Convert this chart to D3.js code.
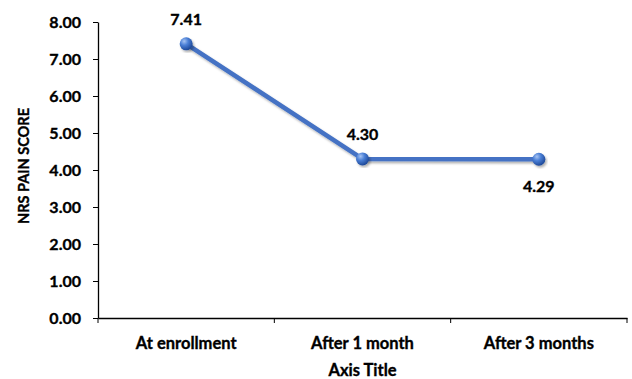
<!DOCTYPE html>
<html>
<head>
<meta charset="utf-8">
<script src="https://cdn.jsdelivr.net/npm/d3@7"></script>
<style>
  body { margin: 0; background: #fff; }
  text { font-family: Lato, "Open Sans", sans-serif; font-weight: bold; fill: #000; stroke: #000; stroke-width: 0.35px; }
</style>
</head>
<body>
<div id="chart"></div>
<script>
// data
var categories = ["At enrollment", "After 1 month", "After 3 months"];
var painScores = [7.41, 4.30, 4.29];
var yTicks = [0, 1, 2, 3, 4, 5, 6, 7, 8];
var labelSide = ["above", "above", "below"];

var W = 632, H = 379;
var plotL = 98, plotR = 627, plotT = 22, plotB = 318;

var svg = d3.select('#chart').append('svg')
    .attr('width', W).attr('height', H);

var defs = svg.append('defs');
var grad = defs.append('radialGradient').attr('id', 'ball')
    .attr('cx', '35%').attr('cy', '30%').attr('r', '70%');
grad.append('stop').attr('offset', '0%').attr('stop-color', '#a6c3f2');
grad.append('stop').attr('offset', '45%').attr('stop-color', '#4a7fd6');
grad.append('stop').attr('offset', '100%').attr('stop-color', '#1f4a9a');

var shadow = defs.append('filter').attr('id', 'shadow')
    .attr('x', '-20%').attr('y', '-20%').attr('width', '140%').attr('height', '140%');
shadow.append('feDropShadow').attr('dx', 1.5).attr('dy', 2)
    .attr('stdDeviation', 1.2).attr('flood-color', '#000').attr('flood-opacity', 0.3);

var x = d3.scaleBand().domain(categories).range([plotL, plotR]);
var y = d3.scaleLinear().domain([0, 8]).range([plotB, plotT]);

// y axis
var yAxis = svg.append('g').attr('transform', 'translate(' + plotL + ',0)')
    .call(d3.axisLeft(y).tickValues(yTicks).tickFormat(d3.format('.2f')).tickSize(5).tickSizeOuter(0).tickPadding(12));
yAxis.selectAll('text').style('font-size', '16px');
yAxis.select('.domain').attr('stroke', '#000').attr('stroke-width', 1.3);

// x axis, ticks at band edges
var xAxis = svg.append('g').attr('transform', 'translate(0,' + plotB + ')')
    .call(d3.axisBottom(x).tickSize(0).tickSizeOuter(0).tickPadding(19));
xAxis.selectAll('text').style('font-size', '16.5px');
xAxis.select('.domain').attr('stroke', '#000').attr('stroke-width', 1.3);
xAxis.selectAll('.edge').data(categories.concat(['end']))
  .enter().append('line').attr('class', 'edge')
    .attr('x1', function(d, i){ return plotL + i * x.bandwidth(); })
    .attr('x2', function(d, i){ return plotL + i * x.bandwidth(); })
    .attr('y1', 0).attr('y2', 5)
    .attr('stroke', '#000').attr('stroke-width', 1);

// axis titles
svg.append('text')
    .attr('transform', 'translate(24,' + ((plotT + plotB) / 2 - 4) + ') rotate(-90)')
    .attr('text-anchor', 'middle').attr('dy', '0.35em')
    .style('font-size', '14.5px').text('NRS PAIN SCORE');
svg.append('text')
    .attr('x', (plotL + plotR) / 2).attr('y', 376)
    .attr('text-anchor', 'middle')
    .style('font-size', '16.5px').text('Axis Title');

var cx = function(d, i){ return x(categories[i]) + x.bandwidth() / 2; };

var line = d3.line()
    .x(function(d, i){ return cx(d, i); })
    .y(function(d){ return y(d); });

svg.append('path').datum(painScores)
    .attr('d', line)
    .attr('fill', 'none')
    .attr('stroke', '#4472c4')
    .attr('stroke-width', 4.5)
    .attr('stroke-linejoin', 'round')
    .attr('filter', 'url(#shadow)');

svg.selectAll('.pt').data(painScores)
  .enter().append('circle').attr('class', 'pt')
    .attr('cx', cx)
    .attr('cy', function(d){ return y(d); })
    .attr('r', 6.5)
    .attr('fill', 'url(#ball)')
    .attr('filter', 'url(#shadow)');

svg.selectAll('.lbl').data(painScores)
  .enter().append('text').attr('class', 'lbl')
    .attr('x', cx)
    .attr('y', function(d, i){ return labelSide[i] == 'above' ? y(d) - 19 : y(d) + 33; })
    .attr('text-anchor', 'middle')
    .style('font-size', '16px')
    .text(function(d){ return d.toFixed(2); });
</script>
</body>
</html>
